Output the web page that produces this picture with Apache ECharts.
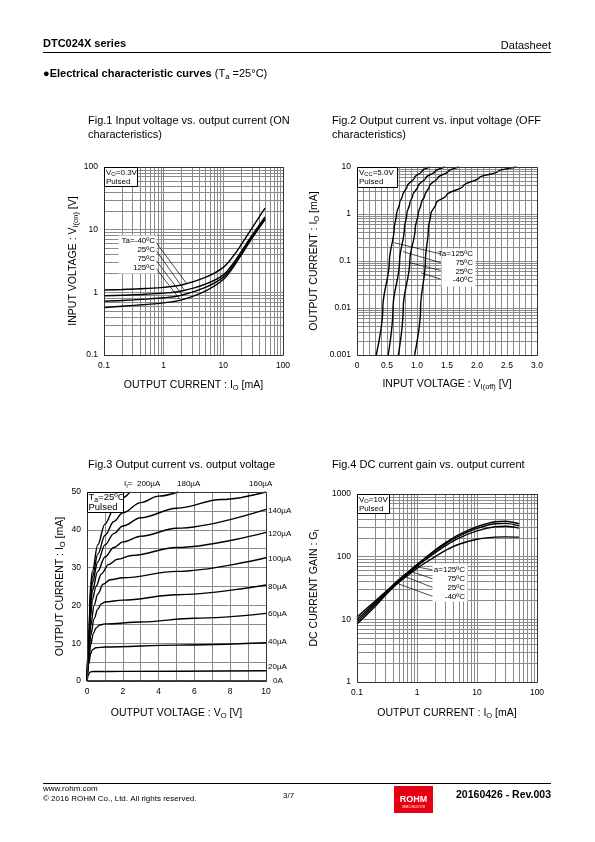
<!DOCTYPE html>
<html><head><meta charset="utf-8">
<script src="https://cdn.jsdelivr.net/npm/echarts@6/dist/echarts.min.js"></script>
<style>html,body{margin:0;padding:0;background:#fff}#c{width:595px;height:842px}</style>
</head><body><div id="c"></div>
<script>
// ---------- Fig.1 : Input voltage vs output current (ON) ----------
const fig1Current = [0.1, 0.2, 0.5, 1, 2, 5, 10, 15, 20, 30, 50];
const fig1Vm40 = [1.09, 1.11, 1.15, 1.2, 1.31, 1.73, 2.5, 3.9, 5.8, 10.5, 22];
const fig1V25 = [0.88, 0.9, 0.93, 0.97, 1.05, 1.35, 1.9, 3.0, 4.5, 8.0, 16];
const fig1V75 = [0.72, 0.74, 0.78, 0.82, 0.9, 1.2, 1.75, 2.8, 4.2, 7.5, 15];
const fig1V125 = [0.57, 0.6, 0.64, 0.68, 0.76, 1.05, 1.6, 2.6, 3.95, 7.2, 14.5];
const fig1LeadM40 = [[0.717, 6.58], [2.4, 1.4]];
const fig1Lead25 = [[0.717, 4.91], [2.2, 1.1]];
const fig1Lead75 = [[0.717, 3.4], [2.0, 0.93]];
const fig1Lead125 = [[0.717, 2.54], [1.85, 0.78]];

// ---------- Fig.2 : Output current vs input voltage (OFF) ----------
const fig2Current = [0.001, 0.01, 0.1, 0.5, 1, 1.7, 2.5, 4, 6, 8, 10];
const fig2V125 = [0.32, 0.43, 0.54, 0.62, 0.66, 0.71, 0.76, 0.84, 0.96, 1.08, 1.21];
const fig2V75 = [0.52, 0.60, 0.71, 0.79, 0.83, 0.88, 0.93, 1.02, 1.15, 1.30, 1.47];
const fig2V25 = [0.69, 0.77, 0.88, 0.97, 1.02, 1.07, 1.13, 1.21, 1.35, 1.52, 1.70];
const fig2Vm40 = [0.96, 1.06, 1.14, 1.19, 1.23, 1.32, 1.49, 1.77, 2.04, 2.35, 2.66];
const fig2Lead125 = [[0.62, 0.245], [1.395, 0.141]];
const fig2Lead75 = [[0.77, 0.158], [1.395, 0.092]];
const fig2Lead25 = [[0.88, 0.092], [1.395, 0.063]];
const fig2LeadM40 = [[1.07, 0.056], [1.395, 0.041]];

// ---------- Fig.3 : Output current vs output voltage ----------
const fig3I0 = [[0, 0], [10, 0]];
const fig3I20 = [[0, 0], [0.08, 1.6], [0.15, 2.3], [0.3, 2.5], [2, 2.55], [10, 2.7]];
const fig3I40 = [[0, 0], [0.1, 4.5], [0.2, 7.2], [0.3, 8.3], [0.5, 8.8], [1, 9], [5, 9.5], [10, 10.1]];
const fig3I60 = [[0, 0], [0.1, 5.5], [0.2, 9.5], [0.35, 12.5], [0.5, 14], [0.7, 14.8], [1, 15.1], [3, 15.6], [6, 16.6], [10, 17.9]];
const fig3I80 = [[0, 0], [0.1, 6.5], [0.2, 12], [0.4, 16.5], [0.6, 19], [0.8, 20.4], [1, 20.9], [2, 21.4], [5, 22.8], [10, 25.4]];
const fig3I100 = [[0, 0], [0.1, 7.5], [0.2, 14.5], [0.4, 20], [0.6, 23], [0.9, 25.6], [1.3, 26.8], [2, 27.3], [5, 29], [10, 32.6]];
const fig3I120 = [[0, 0], [0.1, 8.5], [0.2, 17], [0.3, 21.5], [0.5, 25], [0.8, 28.3], [1.2, 30.8], [1.7, 32.2], [2.5, 33.2], [5, 35.3], [10, 39.3]];
const fig3I140 = [[0, 0], [0.1, 9.5], [0.2, 19.5], [0.3, 24], [0.6, 29], [1, 32.8], [1.5, 35.3], [2, 36.8], [3, 38.3], [5, 40.4], [10, 45.4]];
const fig3I160 = [[0, 0], [0.1, 10.5], [0.2, 21.5], [0.3, 26], [0.6, 31.5], [1, 36], [1.5, 39], [2, 41], [3, 43.2], [5, 45.7], [7.5, 48], [10, 50]];
const fig3I180 = [[0, 0], [0.1, 11.5], [0.2, 23.5], [0.3, 27.5], [0.6, 33.5], [1, 38.5], [1.5, 42.2], [2, 44.5], [3, 47.2], [4, 48.9], [5.1, 50]];
const fig3I200 = [[0, 0], [0.1, 12.5], [0.2, 25.5], [0.3, 29], [0.6, 36], [1, 41.5], [1.5, 45.5], [2, 48.5], [2.4, 50]];

// ---------- Fig.4 : DC current gain vs output current ----------
const fig4Current = [0.1, 0.2, 0.3, 0.5, 1, 2, 3, 5, 10, 20, 30, 50];
const fig4G125 = [10.9, 19.5, 27.5, 43, 75, 128, 168, 225, 300, 360, 368, 335];
const fig4G75 = [9.9, 18.3, 26.5, 41.5, 73, 122, 160, 212, 282, 335, 340, 310];
const fig4G25 = [9.1, 17.2, 25.3, 40, 70, 115, 150, 198, 258, 300, 305, 285];
const fig4Gm40 = [8.4, 16, 24.5, 39, 65, 100, 126, 158, 190, 205, 207, 205];
const fig4Lead125 = [[0.9, 70], [1.87, 61]];
const fig4Lead75 = [[0.75, 59], [1.87, 44]];
const fig4Lead25 = [[0.6, 49], [1.87, 32]];
const fig4LeadM40 = [[0.45, 38], [1.87, 23]];

// ---------- build ----------
const FONT = "'Liberation Sans', Arial, Helvetica, sans-serif";
const GRIDC = '#8a8a8a';
const zip = (xs, ys) => xs.map((x, i) => [x, ys[i]]);
const zipYX = (ys, xs) => xs.map((x, i) => [x, ys[i]]);
const logFmt = v => String(parseFloat(Number(v).toPrecision(6)));
const subRich = { s: { fontSize: 7.5, fontFamily: FONT, padding: [6, 0, 0, 0] } };

function axisBase(gi, extra) {
  return Object.assign({
    gridIndex: gi,
    axisLine: { show: false }, axisTick: { show: false },
    axisLabel: { color: '#000', fontSize: 8.5, fontFamily: FONT, margin: 6, showMinLabel: true, showMaxLabel: true },
    splitLine: { show: true, lineStyle: { color: GRIDC, width: 1 } },
    nameLocation: 'middle',
    nameTextStyle: { color: '#000', fontSize: 10.5, fontFamily: FONT, rich: subRich }
  }, extra);
}
function logAxis(gi, min, max, name, gap) {
  const a = axisBase(gi, { type: 'log', logBase: 10, min, max, name, nameGap: gap,
    minorSplitLine: { show: true, lineStyle: { color: GRIDC, width: 1 } },
    minorTick: { show: false, splitNumber: 9 } });
  a.axisLabel.formatter = logFmt;
  return a;
}
function curve(gi, data, mono, sm) {
  return { type: 'line', xAxisIndex: gi, yAxisIndex: gi, data, symbol: 'none',
    smooth: sm === undefined ? 0.35 : sm,
    smoothMonotone: mono || null, silent: true, animation: false, clip: true,
    lineStyle: { color: '#000', width: 1.4 } };
}
function leader(gi, data) {
  return { type: 'line', xAxisIndex: gi, yAxisIndex: gi, data, symbol: 'none', silent: true,
    animation: false, z: 3, lineStyle: { color: '#000', width: 0.7 } };
}

const grids = [
  { left: 104, top: 167, width: 179, height: 188 },
  { left: 357, top: 167, width: 180, height: 188 },
  { left: 87, top: 492, width: 179, height: 189 },
  { left: 357, top: 494, width: 180, height: 188 }
];

const x2 = axisBase(1, { type: 'value', min: 0, max: 3, interval: 0.5, name: 'INPUT VOLTAGE : V{s|I(off)} [V]', nameGap: 22,
  minorSplitLine: { show: true, lineStyle: { color: GRIDC, width: 1 } }, minorTick: { show: false, splitNumber: 5 } });
x2.axisLabel.formatter = v => v === 0 ? '0' : v.toFixed(1);
const x3 = axisBase(2, { type: 'value', min: 0, max: 10, interval: 1, name: 'OUTPUT VOLTAGE : V{s|O} [V]', nameGap: 25 });
x3.axisLabel.formatter = v => (v % 2 === 0 ? String(v) : '');
const y3 = axisBase(2, { type: 'value', min: 0, max: 50, interval: 5, name: 'OUTPUT CURRENT : I{s|O} [mA]', nameGap: 20 });
y3.axisLabel.formatter = v => (v % 10 === 0 ? String(v) : '');

const xAxes = [
  logAxis(0, 0.1, 100, 'OUTPUT CURRENT : I{s|O} [mA]', 23),
  x2, x3,
  logAxis(3, 0.1, 100, 'OUTPUT CURRENT : I{s|O} [mA]', 24)
];
const yAxes = [
  logAxis(0, 0.1, 100, 'INPUT VOLTAGE : V{s|I(on)} [V]', 24),
  logAxis(1, 0.001, 10, 'OUTPUT CURRENT : I{s|O} [mA]', 36),
  y3,
  logAxis(3, 1, 1000, 'DC CURRENT GAIN : G{s|I}', 36)
];

const series = [
  curve(0, zip(fig1Current, fig1Vm40)), curve(0, zip(fig1Current, fig1V25)),
  curve(0, zip(fig1Current, fig1V75)), curve(0, zip(fig1Current, fig1V125)),
  leader(0, fig1LeadM40), leader(0, fig1Lead25), leader(0, fig1Lead75), leader(0, fig1Lead125),

  curve(1, zipYX(fig2Current, fig2V125), 'y'), curve(1, zipYX(fig2Current, fig2V75), 'y'),
  curve(1, zipYX(fig2Current, fig2V25), 'y'), curve(1, zipYX(fig2Current, fig2Vm40), 'y'),
  leader(1, fig2Lead125), leader(1, fig2Lead75), leader(1, fig2Lead25), leader(1, fig2LeadM40),

  curve(2, fig3I0, 'x'), curve(2, fig3I20, 'x'), curve(2, fig3I40, 'x'), curve(2, fig3I60, 'x'), curve(2, fig3I80, 'x'),
  curve(2, fig3I100, 'x'), curve(2, fig3I120, 'x'), curve(2, fig3I140, 'x'), curve(2, fig3I160, 'x'),
  curve(2, fig3I180, 'x'), curve(2, fig3I200, 'x'),

  curve(3, zip(fig4Current, fig4G125)), curve(3, zip(fig4Current, fig4G75)),
  curve(3, zip(fig4Current, fig4G25)), curve(3, zip(fig4Current, fig4Gm40)),
  leader(3, fig4Lead125), leader(3, fig4Lead75), leader(3, fig4Lead25), leader(3, fig4LeadM40)
];

// ---------- page annotations ----------
const g = [];
function txt(x, y, text, size, opts) {
  g.push({ type: 'text', x, y, z: 100, silent: true, style: Object.assign({
    text, fontSize: size, fontFamily: FONT, fill: '#000', textAlign: 'left', textVerticalAlign: 'middle',
    rich: { s: { fontSize: size * 0.72, fontFamily: FONT, padding: [size * 0.55, 0, 0, 0] },
            b: { fontSize: size, fontFamily: FONT, fontWeight: 'bold' } }
  }, opts || {}) });
}
function box(x, y, w, h, stroke) {
  g.push({ type: 'rect', z: 99, silent: true, shape: { x: x + 0.5, y: y + 0.5, width: w, height: h },
    style: { fill: '#fff', stroke: stroke || null, lineWidth: 1 } });
}
function hline(x1, x2, y) {
  g.push({ type: 'line', z: 100, silent: true, shape: { x1, y1: y, x2, y2: y }, style: { stroke: '#000', lineWidth: 1 } });
}
// frames
grids.forEach(gr => g.push({ type: 'rect', z: 98, silent: true,
  shape: { x: gr.left + 0.5, y: gr.top + 0.5, width: gr.width, height: gr.height },
  style: { fill: null, stroke: '#333', lineWidth: 1 } }));

// header
txt(43, 44, 'DTC024X series', 11, { fontWeight: 'bold' });
txt(551, 46, 'Datasheet', 11, { textAlign: 'right' });
hline(43, 551, 52.5);
txt(43, 74, '{b|●Electrical characteristic curves} (T{s|a} =25°C)', 11);

// figure titles
txt(88, 121, 'Fig.1 Input voltage vs. output current (ON', 11);
txt(88, 135, 'characteristics)', 11);
txt(332, 121, 'Fig.2 Output current vs. input voltage (OFF', 11);
txt(332, 135, 'characteristics)', 11);
txt(88, 465, 'Fig.3 Output current vs. output voltage', 11);
txt(332, 465, 'Fig.4 DC current gain vs. output current', 11);

// condition boxes
box(104, 167, 33, 19, '#000'); txt(106, 172.5, 'V{s|O}=0.3V', 8); txt(106, 181.5, 'Pulsed', 8);
box(357, 167, 40, 20, '#000'); txt(359, 172.5, 'V{s|CC}=5.0V', 8); txt(359, 182, 'Pulsed', 8);
box(87, 492, 36, 20, '#000'); txt(88.5, 497.5, 'T{s|a}=25ºC', 9.5); txt(88.5, 507, 'Pulsed', 9.5);
box(357, 494, 32, 19, '#000'); txt(359, 499.5, 'V{s|O}=10V', 8); txt(359, 508.5, 'Pulsed', 8);

// legend boxes
box(118, 235, 38, 38);
txt(155, 241, 'Ta=-40ºC', 8, { textAlign: 'right' }); txt(155, 250, '25ºC', 8, { textAlign: 'right' });
txt(155, 259, '75ºC', 8, { textAlign: 'right' }); txt(155, 268, '125ºC', 8, { textAlign: 'right' });
box(441, 248, 34, 38);
txt(473, 254, 'Ta=125ºC', 8, { textAlign: 'right' }); txt(473, 263, '75ºC', 8, { textAlign: 'right' });
txt(473, 271.5, '25ºC', 8, { textAlign: 'right' }); txt(473, 280, '-40ºC', 8, { textAlign: 'right' });
box(432, 563, 35, 38);
txt(465, 570, 'a=125ºC', 8, { textAlign: 'right' }); txt(465, 579, '75ºC', 8, { textAlign: 'right' });
txt(465, 588, '25ºC', 8, { textAlign: 'right' }); txt(465, 596.5, '-40ºC', 8, { textAlign: 'right' });

// Fig.3 base current labels
txt(124, 484, 'I{s|I}=  200µA', 8); txt(177, 484, '180µA', 8); txt(249, 484, '160µA', 8);
[['140µA', 511], ['120µA', 534], ['100µA', 559], ['80µA', 587], ['60µA', 614], ['40µA', 641.5], ['20µA', 666.5]]
  .forEach(([t, y]) => txt(268, y, t, 8));
txt(273, 680.5, '0A', 8);

// footer
hline(43, 551, 783.5);
txt(43, 789, 'www.rohm.com', 8);
txt(43, 798.5, '© 2016 ROHM Co., Ltd. All rights reserved.', 8);
txt(283, 796, '3/7', 8);
g.push({ type: 'rect', z: 100, silent: true, shape: { x: 394, y: 786, width: 39, height: 27 }, style: { fill: '#e60012' } });
txt(413.5, 800, 'ROHM', 9, { fill: '#fff', fontWeight: 'bold', textAlign: 'center' });
txt(413.5, 807.5, 'SEMICONDUCTOR', 2.6, { fill: '#fff', textAlign: 'center' });
txt(551, 795, '20160426 - Rev.003', 10.5, { fontWeight: 'bold', textAlign: 'right' });

const chart = echarts.init(document.getElementById('c'), null, { renderer: 'canvas', width: 595, height: 842 });
chart.setOption({
  backgroundColor: '#fff',
  animation: false,
  textStyle: { fontFamily: FONT },
  grid: grids.map(gr => Object.assign({ containLabel: false }, gr)),
  xAxis: xAxes,
  yAxis: yAxes,
  series,
  graphic: { elements: g }
});
</script></body></html>
